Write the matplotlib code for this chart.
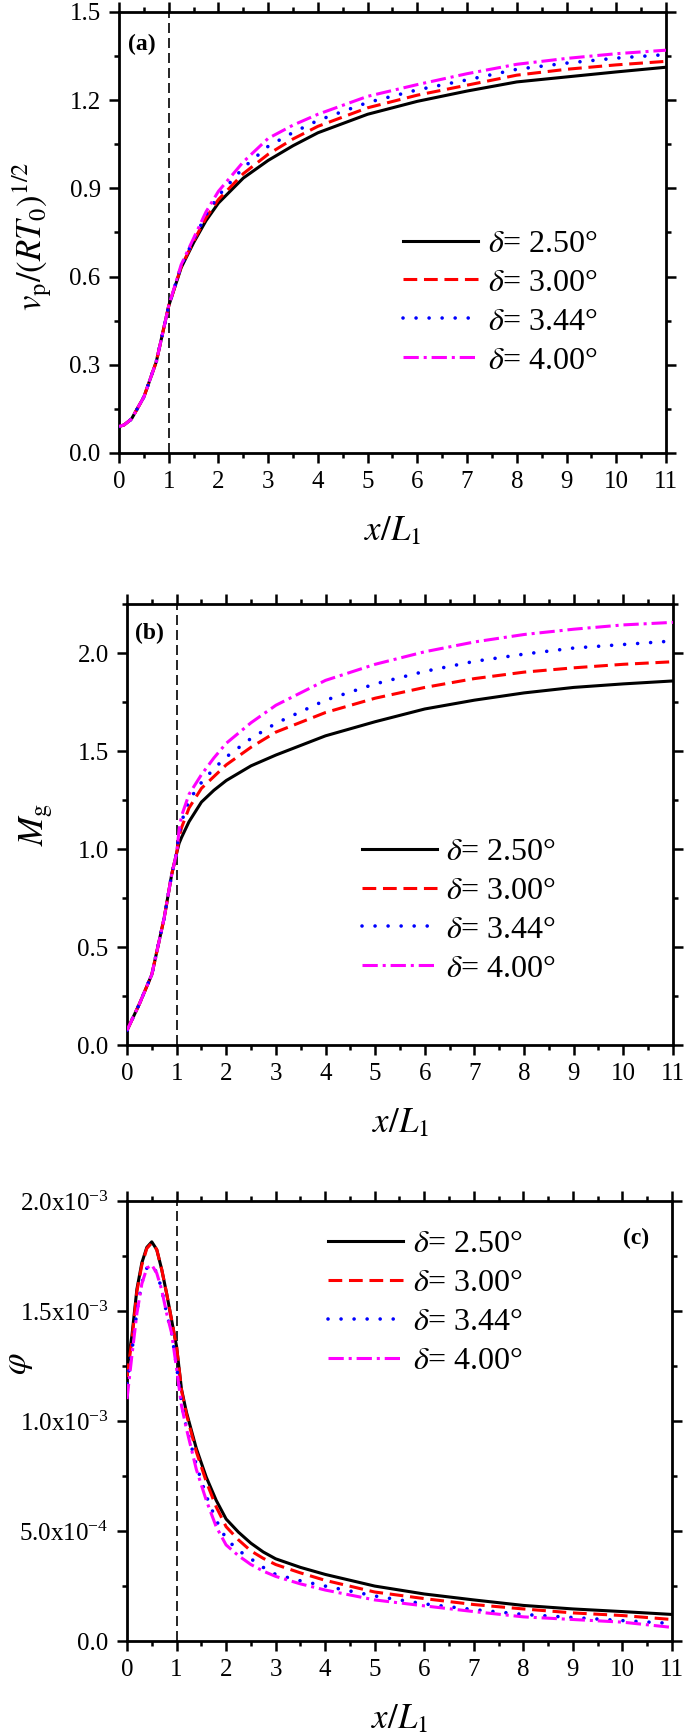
import numpy as np
import matplotlib
matplotlib.use("Agg")
import matplotlib.pyplot as plt
from matplotlib.ticker import MultipleLocator, FixedLocator, FixedFormatter, FormatStrFormatter

plt.rcParams['font.family'] = ['Liberation Serif', 'DejaVu Serif']
plt.rcParams['mathtext.fontset'] = 'stix'

# ---------------- data ----------------
labels = [r'$\delta$= 2.50°', r'$\delta$= 3.00°', r'$\delta$= 3.44°', r'$\delta$= 4.00°']

# panel (a): v_p/(RT0)^0.5
xa = [0, 0.1, 0.25, 0.5, 0.75, 1.0, 1.25, 1.5, 1.75, 2, 2.5, 3, 3.5, 4, 5, 6, 7, 8, 9, 10, 11]
va_250 = [0.09, 0.095, 0.115, 0.19, 0.31, 0.50, 0.63, 0.715, 0.79, 0.85, 0.935, 0.995, 1.045, 1.089,
          1.152, 1.196, 1.231, 1.262, 1.279, 1.296, 1.312]
va_300 = [0.09, 0.095, 0.115, 0.19, 0.31, 0.50, 0.633, 0.72, 0.80, 0.862, 0.95, 1.016, 1.068, 1.111,
          1.174, 1.217, 1.251, 1.285, 1.305, 1.320, 1.332]
va_344 = [0.09, 0.095, 0.115, 0.19, 0.31, 0.50, 0.636, 0.725, 0.81, 0.875, 0.97, 1.043, 1.09, 1.131,
          1.192, 1.235, 1.269, 1.305, 1.326, 1.343, 1.355]
va_400 = [0.09, 0.095, 0.115, 0.19, 0.31, 0.50, 0.64, 0.73, 0.82, 0.89, 0.99, 1.07, 1.115, 1.152,
          1.213, 1.253, 1.29, 1.322, 1.342, 1.358, 1.37]

# panel (b): M_g
xb = [0, 0.25, 0.5, 0.75, 0.9, 1.0, 1.05, 1.1, 1.25, 1.5, 1.75, 2, 2.5, 3, 4, 5, 6, 7, 8, 9, 10, 11]
mb_250 = [0.075, 0.21, 0.36, 0.65, 0.87, 0.98, 1.03, 1.06, 1.14, 1.24, 1.30, 1.35, 1.425, 1.48,
          1.578, 1.65, 1.715, 1.76, 1.797, 1.825, 1.843, 1.858]
mb_300 = [0.075, 0.21, 0.36, 0.65, 0.87, 0.98, 1.06, 1.11, 1.21, 1.31, 1.37, 1.43, 1.52, 1.597,
          1.697, 1.77, 1.825, 1.87, 1.903, 1.925, 1.943, 1.956]
mb_344 = [0.075, 0.21, 0.36, 0.65, 0.87, 0.98, 1.08, 1.14, 1.25, 1.34, 1.41, 1.47, 1.565, 1.642,
          1.76, 1.843, 1.907, 1.958, 1.995, 2.026, 2.044, 2.062]
mb_400 = [0.075, 0.21, 0.36, 0.65, 0.87, 0.98, 1.10, 1.17, 1.28, 1.38, 1.465, 1.54, 1.645, 1.734,
          1.861, 1.943, 2.007, 2.057, 2.095, 2.122, 2.144, 2.157]

# panel (c): phi (x 1e-3)
xc = [0, 0.1, 0.2, 0.3, 0.4, 0.5, 0.6, 0.7, 0.8, 0.9, 1.0, 1.1, 1.2, 1.4, 1.6, 1.8, 2.0, 2.25, 2.5,
      2.75, 3, 3.5, 4, 5, 6, 7, 8, 9, 10, 11]
pc_250 = [1.235, 1.39, 1.60, 1.72, 1.79, 1.815, 1.78, 1.69, 1.58, 1.46, 1.34, 1.145, 1.04, 0.875,
          0.745, 0.64, 0.555, 0.495, 0.445, 0.405, 0.374, 0.335, 0.303, 0.25, 0.214, 0.187, 0.162,
          0.146, 0.134, 0.121]
pc_300 = [1.20, 1.37, 1.59, 1.71, 1.785, 1.81, 1.78, 1.69, 1.58, 1.46, 1.34, 1.14, 1.03, 0.86,
          0.725, 0.61, 0.52, 0.46, 0.41, 0.376, 0.348, 0.31, 0.276, 0.223, 0.193, 0.166, 0.146,
          0.128, 0.116, 0.098]
pc_344 = [1.17, 1.32, 1.50, 1.63, 1.695, 1.71, 1.675, 1.60, 1.49, 1.40, 1.25, 1.08, 0.97, 0.80,
          0.66, 0.55, 0.465, 0.412, 0.374, 0.335, 0.303, 0.274, 0.25, 0.205, 0.169, 0.143, 0.121,
          0.107, 0.093, 0.08]
pc_400 = [1.10, 1.30, 1.49, 1.625, 1.695, 1.71, 1.673, 1.597, 1.49, 1.40, 1.24, 1.07, 0.965, 0.78,
          0.64, 0.52, 0.437, 0.388, 0.348, 0.318, 0.294, 0.26, 0.232, 0.187, 0.16, 0.134, 0.11,
          0.098, 0.086, 0.062]

yticks_c = [0, 5e-4, 1e-3, 1.5e-3, 2e-3]
yticklabels_c = ['0.0', r'5.0x$\mathregular{10^{-4}}$', r'1.0x$\mathregular{10^{-3}}$',
                 r'1.5x$\mathregular{10^{-3}}$', r'2.0x$\mathregular{10^{-3}}$']

# ---------------- styles ----------------
colors = ['black', '#ff0000', '#0000ff', '#ff00ff']
LW = 2.2
styles = [dict(linestyle='-'),
          dict(linestyle=(0, (4.5, 2.2))),
          dict(linestyle=(0, (0.01, 3.6)), dash_capstyle='round', lw=2.6),
          dict(linestyle=(0, (5.0, 1.6, 1.0, 1.6)))]

fig = plt.figure(figsize=(6.85, 17.34), dpi=100)
axa = fig.add_axes([0.1737, 0.7388, 0.7985, 0.2543])
axb = fig.add_axes([0.1854, 0.3973, 0.7970, 0.2543])
axc = fig.add_axes([0.1854, 0.0536, 0.7956, 0.2537])

TICK_FS = 18
LAB_FS = 25
LEG_FS = 23


def style_axes(ax):
    ax.set_xlim(0, 11)
    ax.xaxis.set_major_locator(MultipleLocator(1))
    ax.xaxis.set_minor_locator(MultipleLocator(0.5))
    ax.tick_params(which='both', direction='out', top=True, right=True,
                   labeltop=False, labelright=False, width=1.8)
    ax.tick_params(which='major', length=7.2, labelsize=TICK_FS, pad=6)
    ax.tick_params(which='minor', length=3.6)
    for s in ax.spines.values():
        s.set_linewidth(2.0)
    ax.axvline(1.0, color='black', lw=1.2, dashes=(6, 3), zorder=1)
    ax.set_xlabel(r'$x/L_1$', fontsize=LAB_FS)
    ax.xaxis.set_label_coords(0.5, -0.142)


def draw(ax, x, series):
    hs = []
    for ys, c, st in zip(series, colors, styles):
        kw = dict(st)
        lw = kw.pop('lw', LW)
        h, = ax.plot(x, ys, color=c, lw=lw, zorder=3, **kw)
        hs.append(h)
    return hs


# panel a
style_axes(axa)
ha = draw(axa, xa, [va_250, va_300, va_344, va_400])
axa.set_ylim(0, 1.5)
axa.yaxis.set_major_locator(MultipleLocator(0.3))
axa.yaxis.set_minor_locator(MultipleLocator(0.15))
axa.yaxis.set_major_formatter(FormatStrFormatter('%.1f'))
axa.set_ylabel(r'$v_\mathrm{p}/(RT_0)^{1/2}$', fontsize=LAB_FS)
axa.yaxis.set_label_coords(-0.121, 0.49)
axa.text(0.042, 0.927, '(a)', transform=axa.transAxes, fontsize=17, fontweight='bold',
         ha='center', va='center')

# panel b
style_axes(axb)
hb = draw(axb, xb, [mb_250, mb_300, mb_344, mb_400])
axb.set_ylim(0, 2.25)
axb.yaxis.set_major_locator(MultipleLocator(0.5))
axb.yaxis.set_minor_locator(MultipleLocator(0.25))
axb.yaxis.set_major_formatter(FormatStrFormatter('%.1f'))
axb.set_ylabel(r'$M_\mathrm{g}$', fontsize=LAB_FS)
axb.yaxis.set_label_coords(-0.132, 0.5)
axb.text(0.042, 0.934, '(b)', transform=axb.transAxes, fontsize=17, fontweight='bold',
         ha='center', va='center')

# panel c
style_axes(axc)
hc = draw(axc, xc, [np.array(p) * 1e-3 for p in (pc_250, pc_300, pc_344, pc_400)])
axc.set_ylim(0, 2e-3)
axc.yaxis.set_major_locator(FixedLocator(yticks_c))
axc.yaxis.set_major_formatter(FixedFormatter(yticklabels_c))
axc.yaxis.set_minor_locator(MultipleLocator(2.5e-4))
axc.set_ylabel(r'$\varphi$', fontsize=LAB_FS)
axc.yaxis.set_label_coords(-0.168, 0.63)
axc.text(0.935, 0.916, '(c)', transform=axc.transAxes, fontsize=17, fontweight='bold',
         ha='center', va='center')

leg_kw = dict(frameon=False, fontsize=LEG_FS, handlelength=2.35, handletextpad=0.3,
              labelspacing=0.3, borderpad=0, borderaxespad=0, loc='upper left')
axa.legend(ha, labels, bbox_to_anchor=(0.519, 0.507), **leg_kw)
axb.legend(hb, labels, bbox_to_anchor=(0.43, 0.471), **leg_kw)
axc.legend(hc, labels, bbox_to_anchor=(0.369, 0.935), **leg_kw)

fig.savefig('out.png', dpi=100)
